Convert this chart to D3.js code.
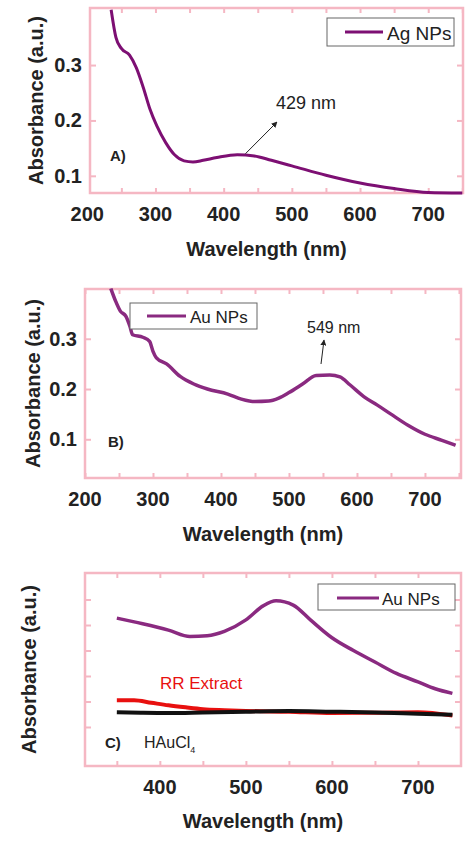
<!DOCTYPE html>
<html><head><meta charset="utf-8">
<script src="https://cdn.jsdelivr.net/npm/d3@7"></script>
<style>body{margin:0;background:#fff}text{font-family:"Liberation Sans",Arial,sans-serif}.nar{font-family:"Liberation Sans Narrow","Arial Narrow","Liberation Sans",sans-serif}</style>
</head><body><svg width="474" height="841"></svg>
<script>
// spectra: [wavelength nm, absorbance]
const agNPs = [[235,0.40],[242,0.35],[250,0.33],[262,0.318],[272,0.295],[282,0.26],[292,0.22],[302,0.19],[315,0.16],[328,0.138],[342,0.127],[355,0.125],[370,0.128],[390,0.133],[420,0.138],[445,0.136],[470,0.128],[500,0.118],[550,0.101],[600,0.087],[650,0.077],[700,0.07],[750,0.069]]
const auNPsB = [[238,0.40],[245,0.375],[252,0.355],[260,0.345],[266,0.325],[270,0.308],[285,0.303],[295,0.295],[300,0.275],[305,0.262],[320,0.25],[340,0.225],[360,0.21],[380,0.2],[410,0.19],[430,0.18],[450,0.175],[470,0.176],[485,0.182],[500,0.193],[520,0.21],[540,0.227],[560,0.228],[575,0.224],[590,0.208],[610,0.185],[630,0.168],[650,0.15],[675,0.128],[700,0.11],[725,0.098],[745,0.088]]
const auNPsC = [[350,0.527],[380,0.505],[410,0.48],[435,0.455],[455,0.458],[475,0.475],[500,0.52],[520,0.575],[535,0.595],[555,0.578],[575,0.52],[600,0.45],[625,0.4],[650,0.355],[675,0.31],[700,0.277],[720,0.25],[740,0.232]]
const rrExtract = [[350,0.205],[370,0.205],[390,0.195],[410,0.185],[430,0.177],[450,0.17],[475,0.166],[500,0.163],[550,0.16],[600,0.155],[650,0.156],[700,0.158],[740,0.145]]
const hauCl4 = [[350,0.158],[380,0.156],[410,0.155],[450,0.157],[500,0.16],[550,0.163],[600,0.16],[650,0.157],[700,0.152],[740,0.148]]
const xTicks = [200,300,400,500,600,700]
const yTicks = [0.1,0.2,0.3]
const yTicksC = [0.1,0.2,0.3,0.4,0.5,0.6]

const svg = d3.select('svg')
const pink = '#f5b7c3'

function panel(o) {
    const x = d3.scaleLinear().domain(o.xd).range([o.l, o.r])
    const y = d3.scaleLinear().domain(o.yd).range([o.b, o.t])
    const g = svg.append('g')

    // minor ticks every 50 nm, inside on bottom and top
    const minor = d3.range(Math.ceil(o.xd[0]/50)*50, o.xd[1], 50)
    const tk = (sel) => sel.call(s => s.select('.domain').remove()).selectAll('line').attr('stroke', pink).attr('stroke-width', 2)
    g.append('g').attr('transform', `translate(0,${o.b})`).call(d3.axisBottom(x).tickValues(minor).tickSize(-5).tickFormat('')).call(tk)
    g.append('g').attr('transform', `translate(0,${o.t})`).call(d3.axisTop(x).tickValues(minor).tickSize(-5).tickFormat('')).call(tk)
    g.append('g').attr('transform', `translate(${o.l},0)`).call(d3.axisLeft(y).tickValues(o.yt).tickSize(-6).tickFormat('')).call(tk)
    g.append('g').attr('transform', `translate(${o.r},0)`).call(d3.axisRight(y).tickValues(o.yt).tickSize(-6).tickFormat('')).call(tk)
    g.append('rect').attr('x', o.l).attr('y', o.t).attr('width', o.r - o.l).attr('height', o.b - o.t)
        .attr('fill', 'none').attr('stroke', pink).attr('stroke-width', 2.5)

    // tick labels
    g.selectAll('.xl').data(o.xl).join('text').attr('class', 'nar').attr('x', d => x(d)).attr('y', o.b + 28)
        .attr('text-anchor', 'middle').attr('font-size', 20).attr('font-weight', 'bold').attr('fill', '#222').text(d => d)
    if (o.ylab) g.selectAll('.yl').data(o.yt).join('text').attr('class', 'nar').attr('x', o.l - 8).attr('y', d => y(d) + 7)
        .attr('text-anchor', 'end').attr('font-size', 20).attr('font-weight', 'bold').attr('fill', '#222').text(d => d)

    g.append('text').attr('class', 'nar').attr('x', (o.l + o.r) / 2 - 10).attr('y', o.b + o.xtOff).attr('text-anchor', 'middle')
        .attr('font-size', 20).attr('font-weight', 'bold').attr('fill', '#222').text('Wavelength (nm)')
    g.append('text').attr('class', 'nar').attr('transform', `translate(${o.yx},${(o.t + o.b) / 2}) rotate(-90)`).attr('text-anchor', 'middle')
        .attr('font-size', 20).attr('font-weight', 'bold').attr('fill', '#222').text('Absorbance (a.u.)')

    const line = d3.line().x(d => x(d[0])).y(d => y(d[1])).curve(d3.curveMonotoneX)
    o.series.forEach(s => {
        g.append('path').datum(s.data).attr('d', line).attr('fill', 'none')
            .attr('stroke', s.color).attr('stroke-width', s.w)
    })
    return {g, x, y}
}

// A
const A = panel({xd:[204,751], yd:[0.069,0.403], l:90, r:463, t:8, b:193, yt:yTicks, xl:xTicks, ylab:true, yx:43, xtOff:63,
    series:[{data:agNPs, color:'#7d0f73', w:3}]})
A.g.append('rect').attr('x', 327).attr('y', 18).attr('width', 127).attr('height', 28).attr('fill', '#fff').attr('stroke', '#666')
A.g.append('line').attr('x1', 345).attr('x2', 383).attr('y1', 32).attr('y2', 32).attr('stroke', '#7d0f73').attr('stroke-width', 3)
A.g.append('text').attr('class', 'nar').attr('x', 387).attr('y', 40).attr('font-size', 19).attr('fill', '#222').text('Ag NPs')
A.g.append('text').attr('class', 'nar').attr('x', 276).attr('y', 109).attr('font-size', 18).attr('fill', '#222').text('429 nm')
A.g.append('text').attr('x', 110).attr('y', 161).attr('font-size', 15).attr('font-weight', 'bold').attr('fill', '#222').text('A)')
svg.append('defs').append('marker').attr('id', 'arr').attr('viewBox', '0 0 10 10').attr('refX', 9).attr('refY', 5)
    .attr('markerWidth', 6).attr('markerHeight', 6).attr('orient', 'auto')
    .append('path').attr('d', 'M0,0L10,5L0,10z').attr('fill', '#222')
A.g.append('line').attr('x1', A.x(432)).attr('y1', A.y(0.14)).attr('x2', 277).attr('y2', 122)
    .attr('stroke', '#222').attr('marker-end', 'url(#arr)')

// B
const B = panel({xd:[200,753], yd:[0.023,0.399], l:85, r:461, t:289, b:478, yt:yTicks, xl:xTicks, ylab:true, yx:40, xtOff:63,
    series:[{data:auNPsB, color:'#8a2a80', w:3.5}]})
B.g.append('rect').attr('x', 130).attr('y', 303).attr('width', 127).attr('height', 26).attr('fill', '#fff').attr('stroke', '#666')
B.g.append('line').attr('x1', 147).attr('x2', 186).attr('y1', 316).attr('y2', 316).attr('stroke', '#8a2a80').attr('stroke-width', 3)
B.g.append('text').attr('x', 190).attr('y', 323).attr('font-size', 17).attr('fill', '#222').text('Au NPs')
B.g.append('text').attr('x', 307).attr('y', 333).attr('font-size', 16).attr('fill', '#222').text('549 nm')
B.g.append('text').attr('x', 108).attr('y', 447).attr('font-size', 15).attr('font-weight', 'bold').attr('fill', '#222').text('B)')
B.g.append('line').attr('x1', 321).attr('y1', 364).attr('x2', 324).attr('y2', 340)
    .attr('stroke', '#222').attr('marker-end', 'url(#arr)')

// C
const C = panel({xd:[313,750], yd:[-0.053,0.704], l:85, r:461, t:573, b:766, yt:yTicksC, xl:[400,500,600,700], ylab:false, yx:36, xtOff:62,
    series:[{data:rrExtract, color:'#e8100f', w:4}, {data:hauCl4, color:'#111', w:4}, {data:auNPsC, color:'#8a2a80', w:3.5}]})
C.g.append('rect').attr('x', 318).attr('y', 584).attr('width', 137).attr('height', 26).attr('fill', '#fff').attr('stroke', '#666')
C.g.append('line').attr('x1', 337).attr('x2', 379).attr('y1', 598).attr('y2', 598).attr('stroke', '#8a2a80').attr('stroke-width', 3)
C.g.append('text').attr('x', 382).attr('y', 605).attr('font-size', 17).attr('fill', '#222').text('Au NPs')
C.g.append('text').attr('x', 160).attr('y', 689).attr('font-size', 17).attr('fill', '#e8100f').text('RR Extract')
C.g.append('text').attr('x', 105).attr('y', 748).attr('font-size', 15).attr('font-weight', 'bold').attr('fill', '#222').text('C)')
const ht = C.g.append('text').attr('x', 144).attr('y', 748).attr('font-size', 16).attr('fill', '#222').text('HAuCl')
ht.append('tspan').attr('font-size', 9).attr('dy', 5).text('4')
</script></body></html>
